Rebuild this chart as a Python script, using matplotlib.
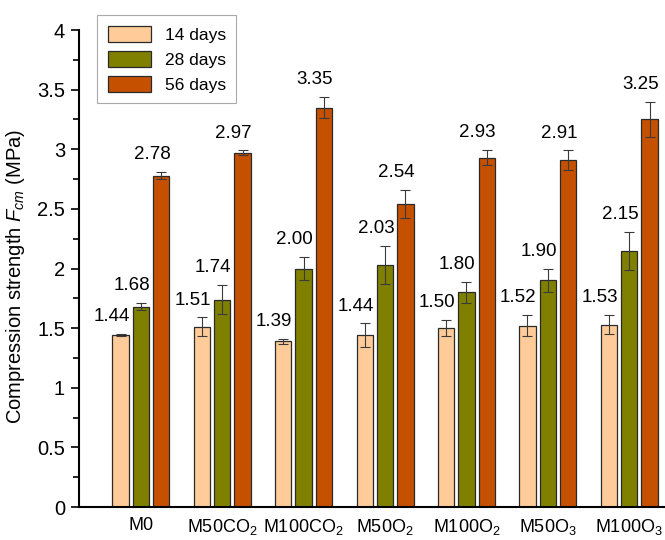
import matplotlib
matplotlib.use("Agg")
import matplotlib.pyplot as plt
import numpy as np

plt.rcParams['font.family'] = ['Liberation Sans', 'DejaVu Sans']
plt.rcParams['mathtext.fontset'] = 'custom'
plt.rcParams['mathtext.rm'] = 'Liberation Sans'
plt.rcParams['mathtext.it'] = 'Liberation Sans:italic'
plt.rcParams['mathtext.bf'] = 'Liberation Sans:bold'

categories = ['M0', r'M50CO$_2$', r'M100CO$_2$', r'M50O$_2$',
              r'M100O$_2$', r'M50O$_3$', r'M100O$_3$']
series_names = ['14 days', '28 days', '56 days']
strength_14 = [1.44, 1.51, 1.39, 1.44, 1.50, 1.52, 1.53]
strength_28 = [1.68, 1.74, 2.00, 2.03, 1.80, 1.90, 2.15]
strength_56 = [2.78, 2.97, 3.35, 2.54, 2.93, 2.91, 3.25]
err_14 = [0.01, 0.08, 0.02, 0.10, 0.07, 0.09, 0.08]
err_28 = [0.03, 0.12, 0.10, 0.16, 0.09, 0.10, 0.16]
err_56 = [0.03, 0.02, 0.09, 0.12, 0.065, 0.08, 0.15]

colors = ['#FFCC99', '#808000', '#C55000']

fig = plt.figure(figsize=(6.65, 5.4), dpi=100)
ax = fig.add_axes([0.1188, 0.0611, 0.8812, 0.8833])

x = np.arange(len(categories))
width = 0.2
step = 0.25
values = [strength_14, strength_28, strength_56]
errors = [err_14, err_28, err_56]

for i, (vals, errs, col, name) in enumerate(zip(values, errors, colors, series_names)):
    pos = x + (i - 1) * step
    ax.bar(pos, vals, width, color=col, edgecolor='#2a2a2a', linewidth=0.9,
           label=name, zorder=2)
    ax.errorbar(pos, vals, yerr=errs, fmt='none', ecolor='#3a3a3a',
                elinewidth=0.8, capsize=3.5, capthick=0.8, zorder=3)
    for p, v, e in zip(pos, vals, errs):
        ax.annotate(f'{v:.2f}', xy=(p, v + e), xytext=(-6.5, 12.5),
                    textcoords='offset points', ha='center', va='center',
                    fontsize=13.5)

ax.set_xlim(-0.76, 6.44)
ax.set_ylim(0, 4)
ax.set_xticks(x)
ax.set_xticklabels(categories, fontsize=13)
ax.tick_params(axis='x', length=0, pad=7)
ax.set_yticks(np.arange(0, 4.01, 0.5))
ax.set_yticklabels(['0', '0.5', '1', '1.5', '2', '2.5', '3', '3.5', '4'], fontsize=14.5)
ax.set_yticks(np.arange(0.25, 4, 0.5), minor=True)
ax.tick_params(axis='y', which='major', direction='out', length=6, width=1.2, pad=4)
ax.tick_params(axis='y', which='minor', direction='out', length=4, width=1.2)

for side in ['top', 'right']:
    ax.spines[side].set_visible(False)
for side in ['left', 'bottom']:
    ax.spines[side].set_linewidth(1.5)

ax.set_ylabel(r'Compression strength $F_{cm}$ (MPa)', fontsize=14.5)
ax.yaxis.set_label_coords(-0.089, 0.483)

leg = ax.legend(loc='upper left', bbox_to_anchor=(0.146, 0.972),
                bbox_transform=fig.transFigure, fontsize=12.5, borderaxespad=0,
                handlelength=2.5, handleheight=1.1, borderpad=0.6,
                labelspacing=0.45, handletextpad=0.8, fancybox=False,
                framealpha=1, edgecolor='#aaaaaa')
leg.get_frame().set_linewidth(0.8)

fig.savefig('out.png', dpi=100)
